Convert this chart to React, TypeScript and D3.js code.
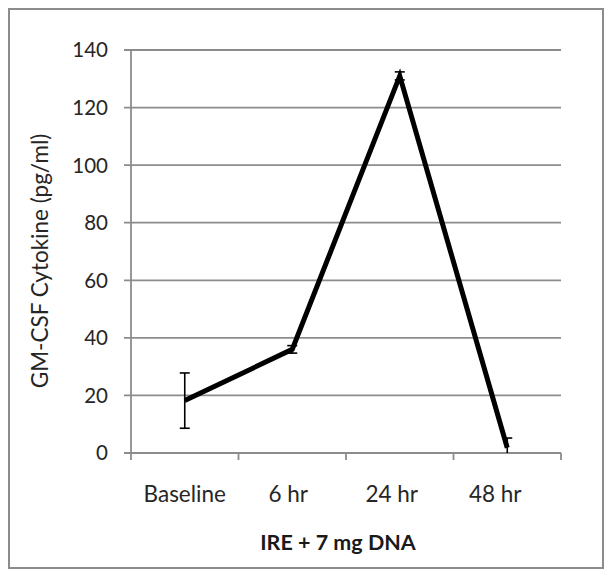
import React, { useEffect, useRef } from "react";
import * as d3 from "d3";

// data
const categories = ["Baseline", "6 hr", "24 hr", "48 hr"];
const values = [18.2, 36, 131, 1.8];
const errors = [9.6, 1.3, 1.4, 3.4];
const yTicks = [0, 20, 40, 60, 80, 100, 120, 140];
const yLabel = "GM-CSF Cytokine (pg/ml)";
const xLabel = "IRE + 7 mg DNA";

const App = () => {
  const svgRef = useRef<SVGSVGElement>(null);

  useEffect(() => {
    const width = 613;
    const height = 577;
    const margin = { top: 50, right: 52, bottom: 124, left: 131 };
    const font = "Lato, 'Noto Sans', sans-serif";
    const grey = "#8c8c8c";

    const svg = d3.select(svgRef.current);
    svg.selectAll("*").remove();
    svg.attr("width", width).attr("height", height);

    // outer chart frame
    svg.append("rect")
      .attr("x", 9).attr("y", 9)
      .attr("width", 594).attr("height", 559)
      .attr("fill", "white")
      .attr("stroke", grey).attr("stroke-width", 2);

    const x = d3.scaleBand()
      .domain(categories)
      .range([margin.left, width - margin.right])
      .paddingInner(0).paddingOuter(0);

    const y = d3.scaleLinear()
      .domain([0, 140])
      .range([height - margin.bottom, margin.top]);

    // gridlines + y ticks
    const grid = svg.append("g");
    yTicks.forEach((t) => {
      grid.append("line")
        .attr("x1", margin.left - 7).attr("x2", width - margin.right)
        .attr("y1", y(t)).attr("y2", y(t))
        .attr("stroke", grey).attr("stroke-width", 1.8);
      grid.append("text")
        .attr("x", margin.left - 23).attr("y", y(t))
        .attr("dy", "0.36em")
        .attr("text-anchor", "end")
        .attr("font-family", font).attr("font-size", 20.5)
        .attr("fill", "#262626")
        .text(t);
    });

    // y axis line
    svg.append("line")
      .attr("x1", margin.left).attr("x2", margin.left)
      .attr("y1", y(140)).attr("y2", y(0) + 7)
      .attr("stroke", grey).attr("stroke-width", 1.8);

    // x ticks at category boundaries
    const bounds = categories.map((c) => x(c) as number).concat([width - margin.right]);
    bounds.slice(1).forEach((b) => {
      svg.append("line")
        .attr("x1", b).attr("x2", b)
        .attr("y1", y(0)).attr("y2", y(0) + 7)
        .attr("stroke", grey).attr("stroke-width", 1.8);
    });

    // category labels
    categories.forEach((c, i) => {
      svg.append("text")
        .attr("x", (x(c) as number) + x.bandwidth() / 2 - i * 4)
        .attr("y", 502)
        .attr("text-anchor", "middle")
        .attr("font-family", font).attr("font-size", 22.5)
        .attr("fill", "#262626")
        .text(c);
    });

    // axis titles
    svg.append("text")
      .attr("transform", `translate(48, ${261}) rotate(-90)`)
      .attr("text-anchor", "middle")
      .attr("font-family", font).attr("font-size", 22.5)
      .attr("fill", "#262626")
      .text(yLabel);

    svg.append("text")
      .attr("x", 338).attr("y", 550)
      .attr("text-anchor", "middle")
      .attr("font-family", font).attr("font-size", 21.5).attr("font-weight", "bold")
      .attr("fill", "#1a1a1a")
      .text(xLabel);

    const cx = (i: number) => (x(categories[i]) as number) + x.bandwidth() / 2;

    // error bars
    const eb = svg.append("g").attr("stroke", "black").attr("stroke-width", 1.6);
    values.forEach((v, i) => {
      const lo = y(Math.max(0, v - errors[i]));
      const hi = y(v + errors[i]);
      eb.append("line").attr("x1", cx(i)).attr("x2", cx(i)).attr("y1", lo).attr("y2", hi);
      eb.append("line").attr("x1", cx(i) - 5).attr("x2", cx(i) + 5).attr("y1", hi).attr("y2", hi);
      if (v - errors[i] > 0) {
        eb.append("line").attr("x1", cx(i) - 5).attr("x2", cx(i) + 5).attr("y1", lo).attr("y2", lo);
      }
    });

    // main line
    const line = d3.line<number>()
      .x((_, i) => cx(i))
      .y((d) => y(d));

    svg.append("path")
      .datum(values)
      .attr("d", line)
      .attr("fill", "none")
      .attr("stroke", "black")
      .attr("stroke-width", 5)
      .attr("stroke-linejoin", "miter");
  }, []);

  return <svg ref={svgRef} style={{ position: "absolute", left: 0, top: 0 }}></svg>;
};

export default App;
